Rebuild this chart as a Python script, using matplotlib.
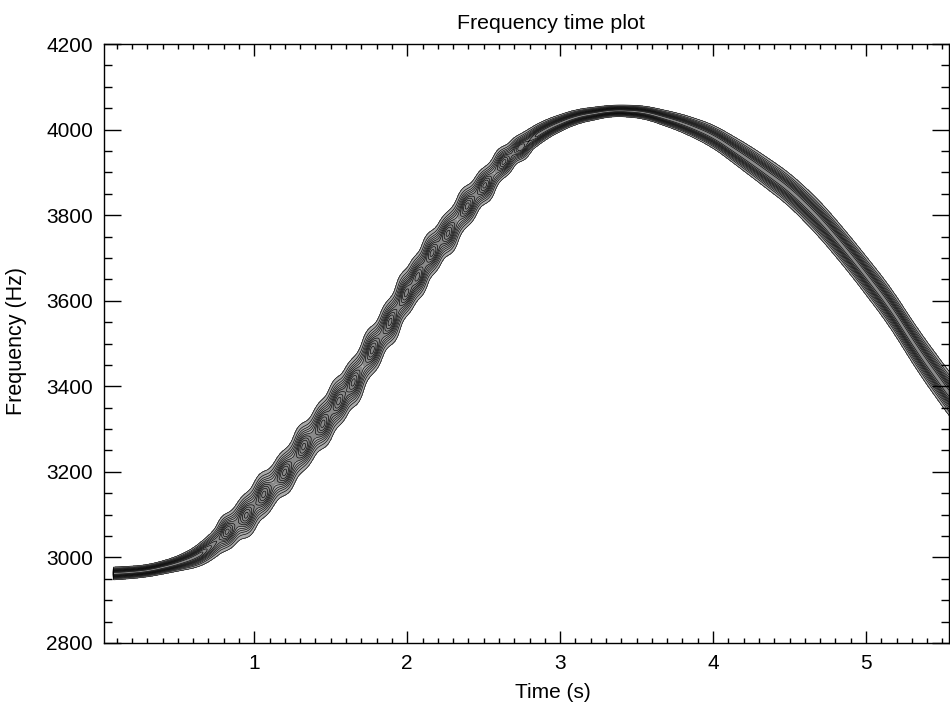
import numpy as np
import matplotlib.pyplot as plt
from matplotlib.ticker import MultipleLocator

plt.rcParams['font.family'] = ['Liberation Sans', 'DejaVu Sans']

# ridge of the time-frequency distribution
ridge_t = [0.08, 0.30, 0.50, 0.65, 0.80, 0.90, 1.00, 1.15, 1.30, 1.45,
           1.60, 1.75, 1.95, 2.15, 2.35, 2.50, 2.70, 2.90, 3.10, 3.35,
           3.55, 3.80, 4.00, 4.25, 4.50, 4.70, 4.90, 5.15, 5.35, 5.60]
ridge_f = [2962, 2968, 2985, 3005, 3050, 3085, 3120, 3180, 3245, 3315,
           3385, 3470, 3590, 3705, 3800, 3870, 3950, 4000, 4030, 4045,
           4041, 4015, 3985, 3925, 3860, 3790, 3705, 3590, 3478, 3355]
# half thickness of the band (Hz)
ridge_hw = [15, 14, 17, 27, 42, 50, 55, 52, 56, 58,
            58, 57, 55, 53, 50, 44, 34, 23, 17, 13,
            15, 21, 27, 35, 39, 43, 44, 47, 50, 52]
# base level along the ridge (lumpy part is weaker between the lumps)
level_t = [0.08, 0.65, 0.78, 2.72, 2.85, 5.60]
level_v = [1.00, 1.00, 0.55, 0.55, 1.00, 1.00]
# centres of the lumps on the rising part and their offset from the ridge (Hz)
blob_t = [0.82, 0.95, 1.06, 1.20, 1.32, 1.45, 1.55, 1.65, 1.77, 1.89,
          1.99, 2.07, 2.16, 2.27, 2.39, 2.51, 2.63, 2.74]
blob_df = [5, -8, 6, -6, 8, -5, 6, -8, 4, -6,
           8, -4, 6, -8, 5, -6, 4, -4]


def smooth(y, n):
    pad = np.pad(y, n // 2, mode="edge")
    return np.convolve(pad, np.ones(n) / n, "valid")


t = np.linspace(0, 5.6, 1400)
f = np.linspace(2800, 4200, 900)
T, F = np.meshgrid(t, f)

fc = smooth(np.interp(t, ridge_t, ridge_f), 41)
hw = smooth(np.interp(t, ridge_t, ridge_hw), 41)
base = np.interp(t, level_t, level_v, left=0.0)
lumpy = ((base > 0) & (base < 0.9))[None, :]

d = (F - fc[None, :]) / hw[None, :]
Z = base[None, :] * np.exp(-0.5 * (d / 0.45) ** 2)
for b, df in zip(blob_t, blob_df):
    fb = np.interp(b, t, fc) + df
    hb = np.interp(b, t, hw)
    Z = Z + 0.45 * lumpy * np.exp(-0.5 * ((T - b) / 0.032) ** 2
                                  - 0.5 * ((F - fb) / (0.45 * hb)) ** 2)
Z = np.minimum(Z, 1.0)

plt.switch_backend("Agg")
fig = plt.figure(figsize=(9.5, 7.07), dpi=100)
ax = fig.add_axes([104 / 950, 1 - 643 / 707, 845 / 950, 599 / 707])

levels = np.linspace(0.085, 0.95, 10)
ax.contourf(T, F, Z, levels=[0.085, 0.6, 2.0], colors=["#ababab", "#8a8a8a"])
ax.contour(T, F, Z, levels=levels, colors="k", linewidths=0.45)

ax.set_xlim(0.017, 5.543)
ax.set_ylim(2800, 4200)
ax.xaxis.set_major_locator(MultipleLocator(1))
ax.xaxis.set_minor_locator(MultipleLocator(0.1))
ax.yaxis.set_major_locator(MultipleLocator(200))
ax.yaxis.set_minor_locator(MultipleLocator(50))
ax.tick_params(which="both", direction="in", top=True, right=True,
               width=1.0, labelsize=15, pad=8)
ax.tick_params(axis="x", which="major", length=8.6)
ax.tick_params(axis="x", which="minor", length=3.6)
ax.tick_params(axis="y", which="major", length=12.2)
ax.tick_params(axis="y", which="minor", length=5.8)
for s in ax.spines.values():
    s.set_linewidth(1.0)

ax.set_title("Frequency time plot", fontsize=15.4, pad=11, x=0.529)
ax.set_xlabel("Time (s)", fontsize=15)
ax.set_ylabel("Frequency (Hz)", fontsize=15.5)
ax.xaxis.set_label_coords(0.531, -0.066)
ax.yaxis.set_label_coords(-0.091, 0.505)

plt.savefig("out.png", dpi=100)
